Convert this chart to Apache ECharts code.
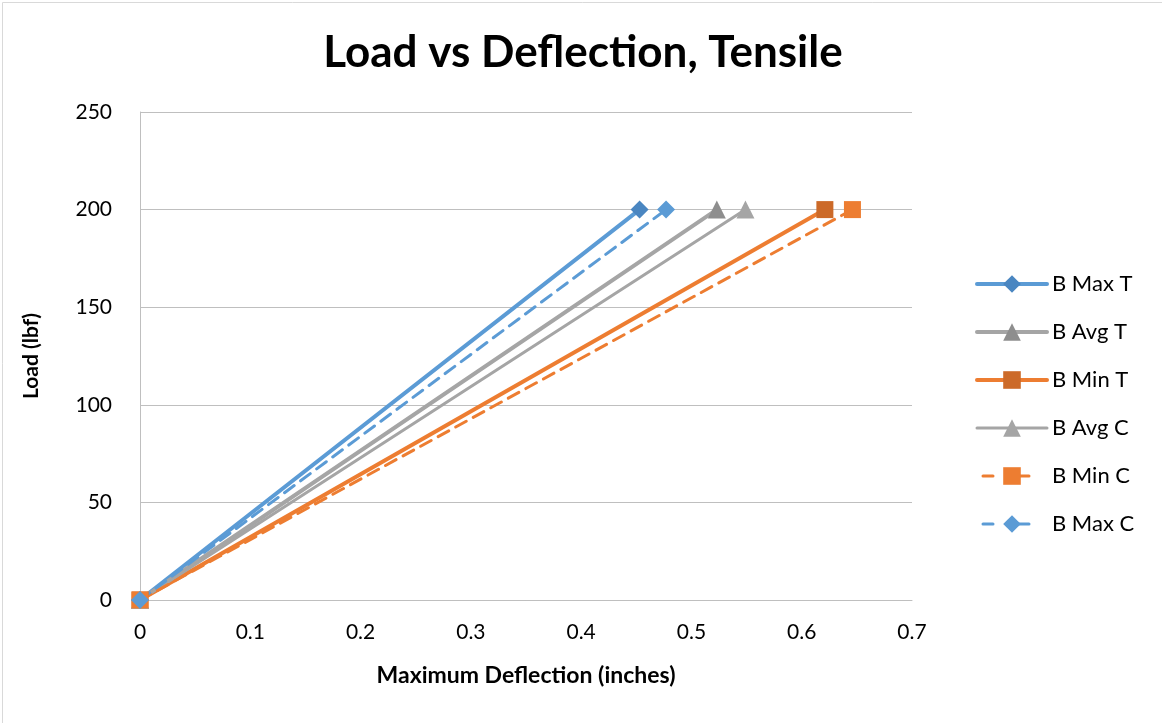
<!DOCTYPE html>
<html>
<head>
<meta charset="utf-8">
<script src="https://cdn.jsdelivr.net/npm/echarts@6/dist/echarts.min.js"></script>
<style>
  html, body { margin: 0; padding: 0; background: #fff; }
  #chart { width: 1162px; height: 723px; }
</style>
</head>
<body>
<div id="chart"></div>
<script>
// load at each point (lbf) and deflection (inches) per series
const loads = [0, 200]
const maxT = [0, 0.453]
const avgT = [0, 0.523]
const minT = [0, 0.621]
const avgC = [0, 0.549]
const minC = [0, 0.646]
const maxC = [0, 0.477]
const yTicks = [0, 50, 100, 150, 200, 250]

const blue = '#5b9bd5', gray = '#a5a5a5', orange = '#ed7d31'
const font = 'Lato, "Liberation Sans", sans-serif'

const pts = xs => xs.map((x, i) => [x, loads[i]])

const mk = (name, xs, color, markColor, symbol, size, width, dashed) => ({
  name, type: 'line', data: pts(xs),
  symbol, symbolSize: size, showAllSymbol: true,
  lineStyle: { color, width, type: dashed ? [12, 8] : 'solid', cap: 'round' },
  itemStyle: { color: markColor, borderWidth: 0 },
  emphasis: { disabled: true }
})

const legendItem = (name, width, dashed) => ({
  name, lineStyle: { width, type: dashed ? [10, 26] : 'solid', cap: 'round', dashOffset: -6 }
})

const chart = echarts.init(document.getElementById('chart'))
chart.setOption({
  animation: false,
  textStyle: { fontFamily: font },
  graphic: [{
    type: 'rect', left: 0, top: 0,
    shape: { x: 0.5, y: 0.5, width: 1161, height: 722 },
    style: { fill: null, stroke: '#d9d9d9', lineWidth: 1 }
  }],
  title: {
    text: 'Load vs Deflection, Tensile',
    left: 578, top: 26, textAlign: 'center',
    textStyle: { fontSize: 44, fontWeight: 'bold', color: '#000', fontFamily: font }
  },
  legend: {
    orient: 'vertical', left: 970, top: 268,
    itemWidth: 70, itemHeight: 22, itemGap: 26,
    textStyle: { fontSize: 22, color: '#000', fontFamily: font },
    data: [
      legendItem('B Max T', 4, false),
      legendItem('B Avg T', 4, false),
      legendItem('B Min T', 4, false),
      legendItem('B Avg C', 3, false),
      legendItem('B Min C', 3, true),
      legendItem('B Max C', 3, true)
    ]
  },
  grid: { left: 140, right: 250, top: 112, bottom: 123 },
  xAxis: {
    type: 'value', min: 0, max: 0.7, interval: 0.1,
    name: 'Maximum Deflection (inches)', nameLocation: 'middle', nameGap: 64,
    nameTextStyle: { fontSize: 23, fontWeight: 'bold', color: '#000' },
    axisLine: { show: true, lineStyle: { color: '#bfbfbf', width: 1 } },
    axisTick: { show: false },
    splitLine: { show: false },
    axisLabel: { fontSize: 21, color: '#000', margin: 22, formatter: v => String(+v.toFixed(1)) }
  },
  yAxis: {
    type: 'value', min: 0, max: 250, interval: 50,
    name: 'Load (lbf)', nameLocation: 'middle', nameGap: 98, nameRotate: 90,
    nameTextStyle: { fontSize: 21, fontWeight: 'bold', color: '#000' },
    axisLine: { show: true, lineStyle: { color: '#bfbfbf', width: 1 } },
    axisTick: { show: false },
    splitLine: { lineStyle: { color: '#bfbfbf', width: 1 } },
    axisLabel: { fontSize: 21, color: '#000', margin: 28, formatter: v => yTicks.includes(v) ? String(v) : '' }
  },
  series: [
    mk('B Max T', maxT, blue, '#4a86c1', 'diamond', 18, 4, false),
    mk('B Avg T', avgT, gray, '#8e8e8e', 'triangle', 18, 4, false),
    mk('B Min T', minT, orange, '#cc6a29', 'rect', 17, 4, false),
    mk('B Avg C', avgC, gray, gray, 'triangle', 18, 3, false),
    mk('B Min C', minC, orange, orange, 'rect', 17, 3, true),
    mk('B Max C', maxC, blue, blue, 'diamond', 18, 3, true)
  ]
})
</script>
</body>
</html>
